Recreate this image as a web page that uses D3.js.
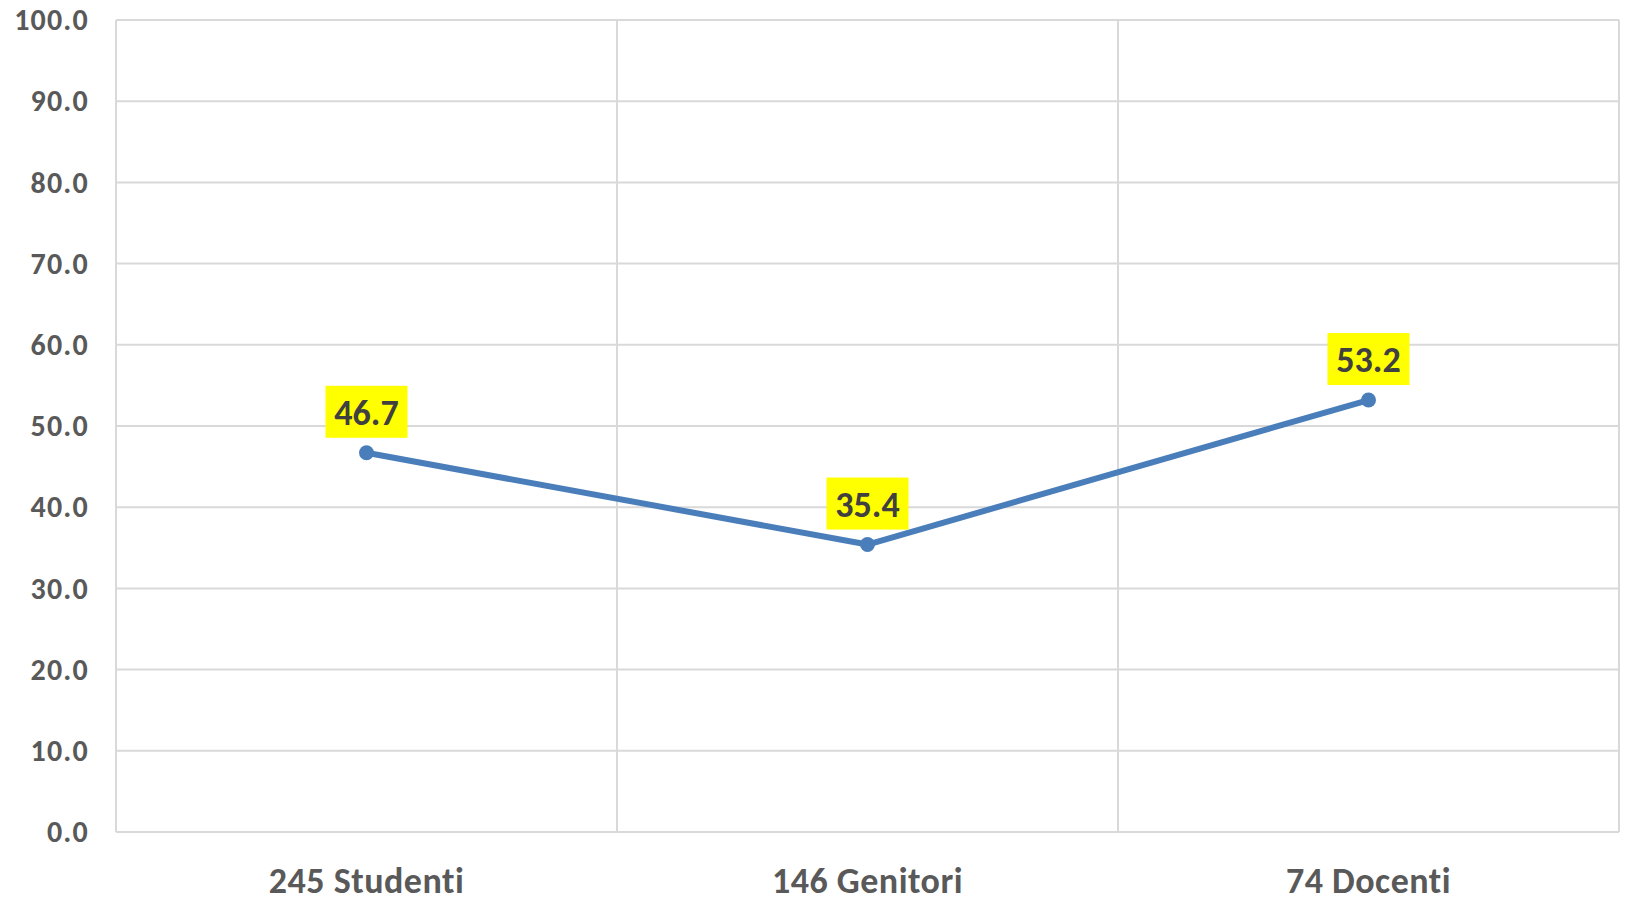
<!DOCTYPE html>
<html><head><meta charset="utf-8">
<script src="https://cdn.jsdelivr.net/npm/d3@7"></script>
<style>body{margin:0;background:#fff}svg{display:block}</style>
</head><body>
<script>
const categories = ["245 Studenti", "146 Genitori", "74 Docenti"];
const values = [46.7, 35.4, 53.2];
const yTicks = [0, 10, 20, 30, 40, 50, 60, 70, 80, 90, 100];

const W = 1645, H = 912;
const m = {left: 116, right: 26, top: 20, bottom: 80};
const svg = d3.select("body").append("svg").attr("width", W).attr("height", H);
const x = d3.scaleBand().domain(categories).range([m.left, W - m.right]);
const y = d3.scaleLinear().domain([0, 100]).range([H - m.bottom, m.top]);
const font = "Calibri, Carlito, Lato, sans-serif";

// horizontal grid
svg.append("g").selectAll("line").data(yTicks).join("line")
  .attr("x1", m.left).attr("x2", W - m.right)
  .attr("y1", d => y(d)).attr("y2", d => y(d))
  .attr("stroke", "#d9d9d9").attr("stroke-width", 2);
// vertical grid at band boundaries
const bounds = categories.map(c => x(c)).concat([x(categories[categories.length-1]) + x.bandwidth()]);
svg.append("g").selectAll("line").data(bounds).join("line")
  .attr("x1", d => d).attr("x2", d => d)
  .attr("y1", y(0)).attr("y2", y(100))
  .attr("stroke", "#d9d9d9").attr("stroke-width", 2);

// y axis labels
const yAxis = d3.axisLeft(y).tickValues(yTicks).tickFormat(d3.format(".1f")).tickSize(0).tickPadding(27);
const ya = svg.append("g").attr("transform", `translate(${m.left},0)`).call(yAxis);
ya.select(".domain").remove();
ya.selectAll("text").attr("font-family", font).attr("font-weight", "bold")
  .attr("font-size", 30).attr("letter-spacing", 1.2).attr("fill", "#595959");

// x axis labels
const xAxis = d3.axisBottom(x).tickSize(0).tickPadding(35);
const xa = svg.append("g").attr("transform", `translate(0,${y(0)})`).call(xAxis);
xa.select(".domain").remove();
xa.selectAll("text").attr("font-family", font).attr("font-weight", "bold")
  .attr("font-size", 36).attr("letter-spacing", 0.5).attr("fill", "#595959");

const cx = d => x(d) + x.bandwidth() / 2;
const pts = categories.map((c, i) => ({c, v: values[i]}));

svg.append("path").datum(pts)
  .attr("d", d3.line().x(d => cx(d.c)).y(d => y(d.v)))
  .attr("fill", "none").attr("stroke", "#4a7ebb").attr("stroke-width", 6)
  .attr("stroke-linejoin", "round");
svg.append("g").selectAll("circle").data(pts).join("circle")
  .attr("cx", d => cx(d.c)).attr("cy", d => y(d.v)).attr("r", 7.5)
  .attr("fill", "#4a7ebb");

// data labels
const lg = svg.append("g").selectAll("g").data(pts).join("g")
  .attr("transform", d => `translate(${cx(d.c)},${y(d.v) - 41})`);
lg.append("rect").attr("x", -41).attr("y", -26).attr("width", 82).attr("height", 52).attr("fill", "#ffff00");
lg.append("text").text(d => d.v.toFixed(1))
  .attr("text-anchor", "middle").attr("dy", "0.36em")
  .attr("font-family", font).attr("font-weight", "bold").attr("font-size", 36)
  .attr("fill", "#404040");
</script>
</body></html>
